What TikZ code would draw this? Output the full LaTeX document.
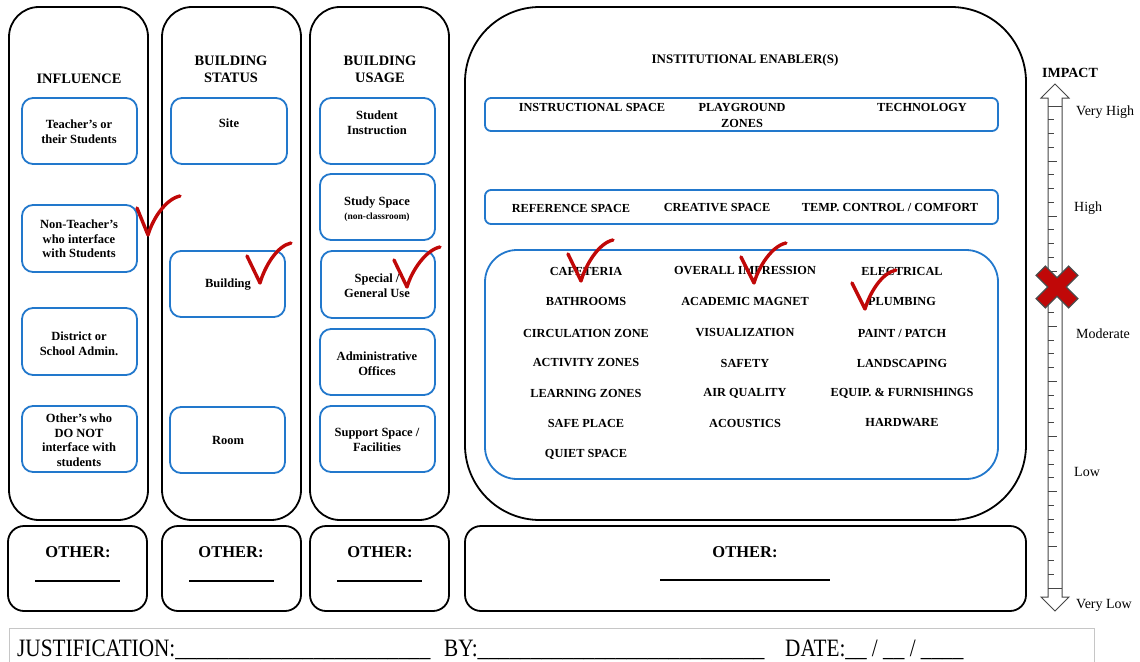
\documentclass[tikz,border=0pt]{standalone}
\usepackage{fontspec}
\setmainfont{Liberation Serif}
\definecolor{boxblue}{RGB}{34,120,204}
\definecolor{markred}{RGB}{192,8,8}
\definecolor{scalegray}{RGB}{70,70,70}
\newcommand\redcheck[3]{\draw[checkline] (#1) -- (#2) .. controls +(5,-17) and +(-14,3) .. (#3);}
\tikzset{
  colbox/.style={draw=black, line width=1.8pt, rounded corners=30pt},
  bigbox/.style={draw=black, line width=1.8pt, rounded corners=75pt},
  otherbox/.style={draw=black, line width=1.8pt, rounded corners=16pt},
  bluebox/.style={draw=boxblue, line width=1.8pt, rounded corners=11pt},
  bluestrip/.style={draw=boxblue, line width=1.8pt, rounded corners=6pt},
  bluegrid/.style={draw=boxblue, line width=1.8pt, rounded corners=32pt},
  hdr/.style={font=\fontsize{14.4}{17}\selectfont\bfseries, align=center, inner sep=0pt},
  lbl/.style={font=\fontsize{12.5}{14.5}\selectfont\bfseries, align=center, inner sep=0pt},
  small/.style={font=\fontsize{9.5}{11}\selectfont\bfseries, align=center, inner sep=0pt},
  item/.style={font=\fontsize{12.3}{16}\selectfont\bfseries, align=center, inner sep=0pt},
  othertxt/.style={font=\fontsize{16.5}{18}\selectfont\bfseries, inner sep=0pt},
  blank/.style={line width=1.1pt},
  scaletxt/.style={font=\fontsize{14}{16}\selectfont, anchor=west, inner sep=0pt},
  formtxt/.style={font=\fontsize{25}{27}\selectfont, anchor=base west, inner sep=0pt},
  checkline/.style={draw=markred, line width=3.4pt, line cap=round, line join=round},
}
\begin{document}
\begin{tikzpicture}[x=1pt,y=-1pt]
\useasboundingbox (0,0) rectangle (1140,661);
\clip (0,0) rectangle (1140,661);

% ---- main columns ----
\draw[colbox] (9,7) rectangle (148,520);
\draw[colbox] (162,7) rectangle (301,520);
\draw[colbox] (310,7) rectangle (449,520);
\draw[bigbox] (465,7) rectangle (1026,520);

% ---- "other" boxes ----
\draw[otherbox] (8,526) rectangle (147,611);
\draw[otherbox] (162,526) rectangle (301,611);
\draw[otherbox] (310,526) rectangle (449,611);
\draw[otherbox] (465,526) rectangle (1026,611);

% ---- column headers ----
\node[hdr] (hInfluence) at (79,79) {INFLUENCE};
\node[hdr] (hStatus) at (231,69.5) {BUILDING\\STATUS};
\node[hdr] (hUsage) at (380,69.5) {BUILDING\\USAGE};
\node[hdr, font=\fontsize{13}{15}\selectfont\bfseries] (hEnabler) at (745,60) {INSTITUTIONAL ENABLER(S)};

% ---- influence ----
\draw[bluebox] (22,98) rectangle (137,164);
\draw[bluebox] (22,205) rectangle (137,272);
\draw[bluebox] (22,308) rectangle (137,375);
\draw[bluebox] (22,406) rectangle (137,472);
\node[lbl] (inTeach) at (79,131.5) {Teacher’s or\\their Students};
\node[lbl] (inNonTeach) at (79,239) {Non-Teacher’s\\who interface\\with Students};
\node[lbl] (inDistrict) at (79,343.5) {District or\\School Admin.};
\node[lbl] (inOthers) at (79,440) {Other’s who\\DO NOT\\interface with\\students};

% ---- building status ----
\draw[bluebox] (171,98) rectangle (287,164);
\draw[bluebox] (170,251) rectangle (285,317);
\draw[bluebox] (170,407) rectangle (285,473);
\node[lbl] (stSite) at (229,123) {Site};
\node[lbl] (stBuilding) at (228,285) {Building};
\node[lbl] (stRoom) at (228,440) {Room};

% ---- building usage ----
\draw[bluebox] (320,98) rectangle (435,164);
\draw[bluebox] (320,174) rectangle (435,240);
\draw[bluebox] (321,251) rectangle (435,318);
\draw[bluebox] (320,329) rectangle (435,395);
\draw[bluebox] (320,406) rectangle (435,472);
\node[lbl] (usInstr) at (377,122.5) {Student\\Instruction};
\node[lbl] (usStudy) at (377,203) {Study Space};
\node[small] (usStudyNote) at (377,217) {(non-classroom)};
\node[lbl] (usSpecial) at (377,285.5) {Special /\\General Use};
\node[lbl] (usAdmin) at (377,363.5) {Administrative\\Offices};
\node[lbl] (usSupport) at (377,440) {Support Space /\\Facilities};

% ---- institutional enablers ----
\draw[bluestrip] (485,98) rectangle (998,131);
\draw[bluestrip] (485,190) rectangle (998,224);
\draw[bluegrid] (485,250) rectangle (998,479);
\node[item] (enInstr) at (592,107) {INSTRUCTIONAL SPACE};
\node[item] (enPlay) at (742,115) {PLAYGROUND\\ZONES};
\node[item] (enTech) at (922,107) {TECHNOLOGY};
\node[item] (enRef) at (571,208) {REFERENCE SPACE};
\node[item] (enCreative) at (717,208) {CREATIVE SPACE};
\node[item] (enTemp) at (890,208) {TEMP. CONTROL / COMFORT};

\node[item] (gA1) at (586,271) {CAFETERIA};
\node[item] (gA2) at (586,301) {BATHROOMS};
\node[item] (gA3) at (586,333) {CIRCULATION ZONE};
\node[item] (gA4) at (586,363) {ACTIVITY ZONES};
\node[item] (gA5) at (586,393) {LEARNING ZONES};
\node[item] (gA6) at (586,423) {SAFE PLACE};
\node[item] (gA7) at (586,454) {QUIET SPACE};
\node[item] (gB1) at (745,271) {OVERALL IMPRESSION};
\node[item] (gB2) at (745,301) {ACADEMIC MAGNET};
\node[item] (gB3) at (745,333) {VISUALIZATION};
\node[item] (gB4) at (745,363) {SAFETY};
\node[item] (gB5) at (745,393) {AIR QUALITY};
\node[item] (gB6) at (745,423) {ACOUSTICS};
\node[item] (gC1) at (902,271) {ELECTRICAL};
\node[item] (gC2) at (902,301) {PLUMBING};
\node[item] (gC3) at (902,333) {PAINT / PATCH};
\node[item] (gC4) at (902,363) {LANDSCAPING};
\node[item] (gC5) at (902,393) {EQUIP. \& FURNISHINGS};
\node[item] (gC6) at (902,423) {HARDWARE};

% ---- "other" labels and blanks ----
\node[othertxt] (oInfluence) at (78,552) {OTHER:};
\node[othertxt] (oStatus) at (231,552) {OTHER:};
\node[othertxt] (oUsage) at (380,552) {OTHER:};
\node[othertxt] (oEnabler) at (745,552) {OTHER:};
\draw[blank] (35,581) -- (120,581);
\draw[blank] (189,581) -- (274,581);
\draw[blank] (337,581) -- (422,581);
\draw[blank] (660,580) -- (830,580);

% ---- impact scale ----
\node[hdr, font=\fontsize{14}{16}\selectfont\bfseries] (impact) at (1070,73) {IMPACT};
\draw[scalegray, line width=1pt, fill=white]
  (1055,84) -- (1069,98) -- (1062,98) -- (1062,597) -- (1069,597) -- (1055,611)
  -- (1041,597) -- (1048,597) -- (1048,98) -- (1041,98) -- cycle;
\draw[scalegray, line width=1pt] (1048,106) -- (1062,106);
\draw[scalegray, line width=1pt] (1048,588) -- (1062,588);
\foreach \i in {1,...,34}{
  \pgfmathsetmacro\ty{106+\i*13.77}
  \pgfmathsetmacro\tl{ifthenelse(mod(\i,4)==0,9,6)}
  \draw[scalegray, line width=1pt] (1048,\ty) -- ++(\tl,0);
}
\node[scaletxt] (lvVeryHigh) at (1076,112) {Very High};
\node[scaletxt] (lvHigh) at (1074,208) {High};
\node[scaletxt] (lvModerate) at (1076,334) {Moderate};
\node[scaletxt] (lvLow) at (1074,472) {Low};
\node[scaletxt] (lvVeryLow) at (1076,605) {Very Low};
% rating marker
\begin{scope}[shift={(1057,287)}, rotate=45]
\filldraw[fill=markred, draw=gray!60!black, line width=1.3pt]
  (6.5,23) -- (6.5,6.5) -- (23,6.5) -- (23,-6.5) -- (6.5,-6.5) -- (6.5,-23)
  -- (-6.5,-23) -- (-6.5,-6.5) -- (-23,-6.5) -- (-23,6.5) -- (-6.5,6.5) -- (-6.5,23) -- cycle;
\end{scope}

% ---- check marks ----
\redcheck{137,208}{148,235}{180,196}
\redcheck{247,256}{260,283}{291,243}
\redcheck{394,260}{407,287}{440,247}
\redcheck{568,254}{581,281}{613,240}
\redcheck{741,257}{754,283}{786,243}
\redcheck{852,283}{865,309}{896,270}

% ---- sign-off line ----
\draw[gray!45, line width=0.9pt] (9,628) rectangle (1094,680);
\node[formtxt] (fJust) at (17,656) {\scalebox{0.85}[1]{JUSTIFICATION:\_\_\_\_\_\_\_\_\_\_\_\_\_\_\_\_\_\_\_\_\_\_\_\_}};
\node[formtxt] (fBy) at (444,656) {\scalebox{0.85}[1]{BY:\_\_\_\_\_\_\_\_\_\_\_\_\_\_\_\_\_\_\_\_\_\_\_\_\_\_\_}};
\node[formtxt] (fDate) at (785,656) {\scalebox{0.85}[1]{DATE:\_\_ / \_\_ / \_\_\_\_}};
\end{tikzpicture}
\end{document}
